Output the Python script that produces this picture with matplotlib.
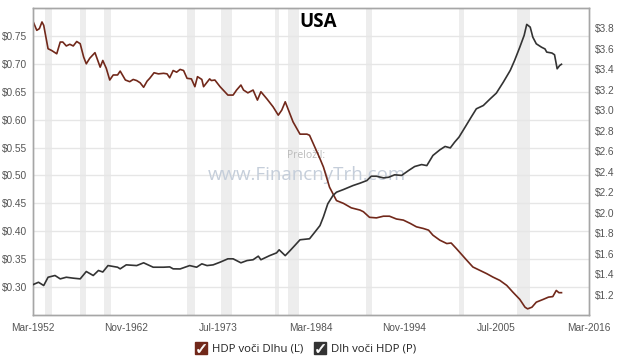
import matplotlib
matplotlib.use('Agg')
import matplotlib.pyplot as plt
from matplotlib.lines import Line2D
from matplotlib.legend_handler import HandlerTuple

# HDP voci Dlhu (left axis)
years_l = [1952.2, 1952.6, 1952.9, 1953.2, 1953.4, 1953.9, 1954.3, 1954.9, 1955.3, 1955.6,
           1956.0, 1956.4, 1956.8, 1957.2, 1957.6, 1958.0, 1958.3, 1958.7, 1959.3, 1959.9,
           1960.2, 1960.6, 1961.0, 1961.4, 1961.9, 1962.2, 1962.8, 1963.3, 1963.7, 1964.1,
           1964.5, 1964.9, 1965.3, 1965.6, 1966.1, 1966.6, 1967.2, 1967.6, 1967.9, 1968.3,
           1968.7, 1969.1, 1969.5, 1969.9, 1970.4, 1970.8, 1971.1, 1971.6, 1971.8, 1972.5,
           1972.7, 1973.1, 1973.7, 1974.6, 1975.2, 1975.6, 1976.1, 1976.4, 1976.9, 1977.5,
           1978.0, 1978.4, 1979.1, 1979.8, 1980.4, 1980.8, 1981.2, 1981.5, 1982.1, 1982.9,
           1983.7, 1984.0, 1984.6, 1985.2, 1985.6, 1986.3, 1987.1, 1987.9, 1988.8, 1989.8,
           1990.2, 1990.9, 1991.7, 1992.5, 1993.2, 1994.0, 1994.8, 1995.6, 1996.3, 1997.1,
           1997.7, 1998.2, 1999.0, 1999.8, 2000.3, 2000.9, 2001.3, 2002.1, 2002.8, 2003.6,
           2004.4, 2005.1, 2005.9, 2006.7, 2007.4, 2008.2, 2008.8, 2009.1, 2009.6, 2010.1,
           2010.9, 2011.5, 2012.0, 2012.4, 2012.7, 2013.0]
hdp_dlh = [0.775, 0.760, 0.763, 0.775, 0.769, 0.727, 0.724, 0.718, 0.739, 0.739,
           0.732, 0.735, 0.732, 0.740, 0.736, 0.712, 0.700, 0.710, 0.720, 0.694,
           0.706, 0.692, 0.671, 0.680, 0.680, 0.687, 0.671, 0.668, 0.672, 0.670,
           0.666, 0.658, 0.669, 0.674, 0.684, 0.682, 0.683, 0.682, 0.675, 0.688,
           0.685, 0.690, 0.688, 0.674, 0.673, 0.659, 0.677, 0.672, 0.659, 0.673,
           0.670, 0.671, 0.659, 0.644, 0.644, 0.653, 0.662, 0.653, 0.648, 0.653,
           0.635, 0.650, 0.637, 0.623, 0.608, 0.617, 0.632, 0.620, 0.596, 0.574,
           0.574, 0.572, 0.551, 0.530, 0.515, 0.479, 0.455, 0.450, 0.442, 0.438,
           0.435, 0.425, 0.424, 0.427, 0.427, 0.422, 0.420, 0.414, 0.408, 0.405,
           0.402, 0.393, 0.384, 0.378, 0.379, 0.369, 0.362, 0.348, 0.336, 0.330,
           0.324, 0.318, 0.312, 0.303, 0.291, 0.278, 0.264, 0.261, 0.264, 0.273,
           0.278, 0.282, 0.283, 0.294, 0.290, 0.290]

# Dlh voci HDP (right axis)
years_r = [1952.2, 1952.8, 1953.4, 1953.9, 1954.7, 1955.3, 1956.0, 1956.8, 1957.6, 1958.3,
           1959.1, 1959.7, 1960.2, 1960.8, 1961.9, 1962.2, 1962.9, 1964.1, 1964.9, 1966.0,
           1967.2, 1967.9, 1968.3, 1969.1, 1970.2, 1971.0, 1971.6, 1972.2, 1972.9, 1973.7,
           1974.6, 1975.2, 1976.1, 1976.8, 1977.5, 1978.1, 1978.4, 1979.4, 1980.2, 1980.5,
           1981.2, 1981.7, 1982.3, 1982.9, 1984.0, 1984.6, 1985.2, 1985.6, 1986.1, 1986.7,
           1987.1, 1987.9, 1989.0, 1989.8, 1990.6, 1991.1, 1991.7, 1992.5, 1993.1, 1993.8,
           1994.6, 1995.4, 1996.1, 1996.9, 1997.5, 1998.2, 1999.0, 1999.6, 2000.2, 2000.7,
           2001.2, 2001.9, 2002.6, 2003.2, 2004.0, 2004.8, 2005.5, 2006.3, 2007.1, 2007.6,
           2008.2, 2008.7, 2009.0, 2009.4, 2009.7, 2010.1, 2010.7, 2011.1, 2011.3, 2011.9,
           2012.2, 2012.5, 2012.8, 2013.0]
dlh_hdp = [1.298, 1.320, 1.288, 1.369, 1.386, 1.353, 1.369, 1.360, 1.353, 1.425,
           1.386, 1.435, 1.420, 1.483, 1.467, 1.451, 1.490, 1.483, 1.510, 1.467,
           1.467, 1.470, 1.451, 1.450, 1.483, 1.467, 1.500, 1.483, 1.490, 1.516,
           1.549, 1.549, 1.510, 1.532, 1.540, 1.575, 1.540, 1.580, 1.607, 1.637,
           1.580, 1.624, 1.679, 1.735, 1.745, 1.809, 1.874, 1.960, 2.087, 2.168,
           2.200, 2.226, 2.265, 2.288, 2.314, 2.356, 2.356, 2.340, 2.346, 2.370,
           2.364, 2.412, 2.451, 2.470, 2.460, 2.559, 2.614, 2.647, 2.633, 2.689,
           2.738, 2.835, 2.933, 3.015, 3.047, 3.113, 3.168, 3.275, 3.390, 3.487,
           3.617, 3.732, 3.840, 3.813, 3.715, 3.650, 3.617, 3.600, 3.569, 3.560,
           3.543, 3.406, 3.439, 3.450]

# recessions (start, end)
recessions = [(1953.5, 1954.4), (1957.6, 1958.3), (1960.3, 1961.1), (1969.9, 1970.8),
              (1973.8, 1975.1), (1980.0, 1980.5), (1981.5, 1982.8), (1990.5, 1991.2),
              (2001.2, 2001.8), (2007.9, 2009.4)]

xtick_pos = [1952 + 2/12, 1962 + 10/12, 1973 + 6/12, 1984 + 2/12, 1994 + 10/12, 2005 + 6/12, 2016 + 2/12]
xtick_labels = ['Mar-1952', 'Nov-1962', 'Jul-1973', 'Mar-1984', 'Nov-1994', 'Jul-2005', 'Mar-2016']
left_ticks = [0.30, 0.35, 0.40, 0.45, 0.50, 0.55, 0.60, 0.65, 0.70, 0.75]
right_ticks = [1.2, 1.4, 1.6, 1.8, 2.0, 2.2, 2.4, 2.6, 2.8, 3.0, 3.2, 3.4, 3.6, 3.8]

brown = '#71281a'
dark = '#333333'
tick_color = '#555555'

fig = plt.figure(figsize=(6.2, 3.59), dpi=100)
ax = fig.add_axes([33/620, 44/359, 556/620, 307/359])
ax2 = ax.twinx()

for s, e in recessions:
    ax.axvspan(s, e, color='#ededed', lw=0, zorder=0)

ax.set_xlim(xtick_pos[0], xtick_pos[-1])
ax.set_ylim(0.25, 0.80)
ax2.set_ylim(1.0, 4.0)

ax.set_yticks(left_ticks, labels=[f'${v:.2f}' for v in left_ticks])
ax2.set_yticks(right_ticks, labels=[f'${v:.1f}' for v in right_ticks])
ax.set_xticks(xtick_pos, labels=xtick_labels)

ax.grid(axis='y', color='#e6e6e6', lw=1)
ax.set_axisbelow(True)

for a in (ax, ax2):
    a.tick_params(length=0, labelsize=7.3, labelcolor=tick_color)
    for sp in a.spines.values():
        sp.set_color('#a6a6a6')
        sp.set_linewidth(1)
ax.tick_params(axis='y', pad=4)
ax.tick_params(axis='x', pad=6)
ax2.tick_params(axis='y', pad=4)
for lab in ax.get_xticklabels() + ax.get_yticklabels() + ax2.get_yticklabels():
    lab.set_family('Liberation Sans')

ax.text(0.492, 0.518, 'Preložil:', transform=ax.transAxes, ha='center', va='center',
        fontsize=7.5, color='#bbbbbb', family='Open Sans', zorder=1)
ax.text(0.493, 0.455, 'www.FinancnyTrh.com', transform=ax.transAxes, ha='center', va='center',
        fontsize=13.5, color='#c5ceda', family='Open Sans', zorder=1)

l1, = ax.plot(years_l, hdp_dlh, color=brown, lw=1.2, zorder=3)
l2, = ax2.plot(years_r, dlh_hdp, color=dark, lw=1.2, zorder=3)

fig.text(318/620, 1 - 22/359, 'USA', ha='center', va='center', fontsize=13.5,
         fontweight='bold', family='Open Sans', color='black')

def checkbox(color):
    box = Line2D([], [], marker='s', markersize=8, color=color, linestyle='none')
    tick = Line2D([], [], marker='$\u2713$', markersize=6, color='white',
                  markeredgewidth=0.4, linestyle='none')
    return (box, tick)

fig.legend([checkbox(brown), checkbox(dark)], ['HDP voči Dlhu (Ľ)', 'Dlh voči HDP (P)'],
           handler_map={tuple: HandlerTuple(ndivide=1)}, loc='center',
           bbox_to_anchor=(306/620, 1 - 349/359), ncol=2, frameon=False,
           prop={'family': 'Open Sans', 'size': 8.2}, handlelength=0.9,
           handletextpad=0.5, columnspacing=1.0, labelcolor='#222222')

plt.savefig('out.png', dpi=100)
